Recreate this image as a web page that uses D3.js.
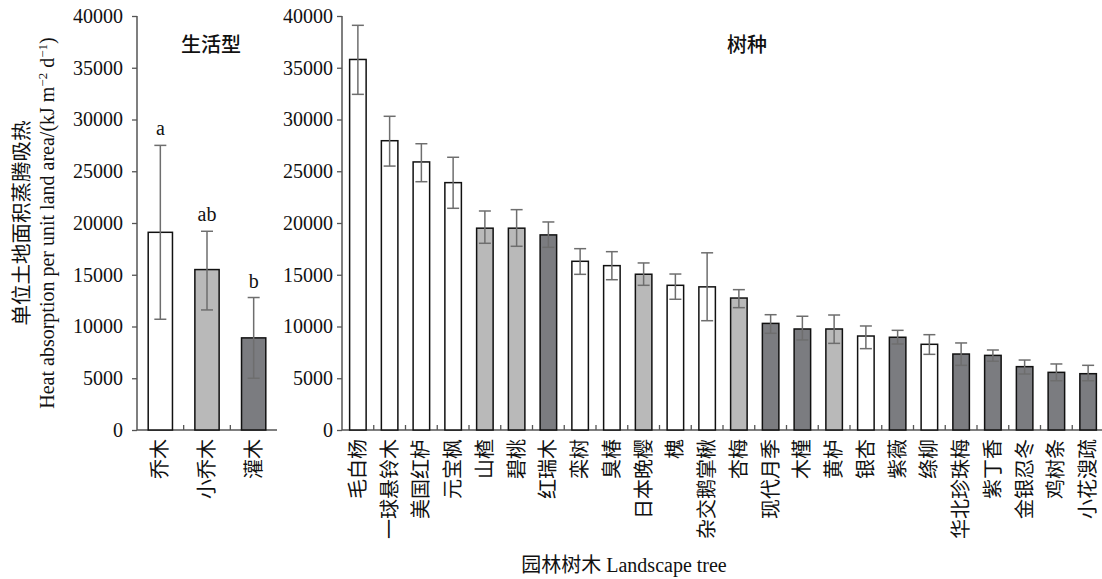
<!DOCTYPE html>
<html>
<head>
<meta charset="utf-8">
<script src="https://cdn.jsdelivr.net/npm/d3@7"></script>
<style>
  html, body { margin: 0; padding: 0; background: #fff; }
  svg { display: block; }
  text { font-family: "Liberation Serif", "Noto Sans CJK SC", serif; fill: #111; }
</style>
</head>
<body>
<svg id="chart" width="1102" height="579"></svg>
<script>
// Life-form panel
const lifeForms = ["乔木", "小乔木", "灌木"];
const lifeMean  = [19100, 15500, 8900];
const lifeLow   = [10700, 11600, 5000];
const lifeHigh  = [27500, 19200, 12800];
const lifeSig   = ["a", "ab", "b"];

// Species panel (type: 0 = 乔木, 1 = 小乔木, 2 = 灌木)
const species = ["毛白杨", "一球悬铃木", "美国红栌", "元宝枫", "山楂", "碧桃", "红瑞木", "栾树",
  "臭椿", "日本晚樱", "槐", "杂交鹅掌楸", "杏梅", "现代月季", "木槿", "黄栌", "银杏", "紫薇",
  "绦柳", "华北珍珠梅", "紫丁香", "金银忍冬", "鸡树条", "小花溲疏"];
const speciesType = [0, 0, 0, 0, 1, 1, 2, 0, 0, 1, 0, 0, 1, 2, 2, 1, 0, 2, 0, 2, 2, 2, 2, 2];
const speciesMean = [35800, 27950, 25900, 23900, 19500, 19500, 18850, 16300, 15880, 15050, 13980,
  13830, 12750, 10300, 9760, 9760, 9080, 8960, 8280, 7340, 7210, 6120, 5570, 5440];
const speciesLow  = [32430, 25500, 23990, 21420, 18040, 17750, 17650, 15040, 14520, 13980, 12630,
  10560, 11820, 9340, 8700, 8370, 7860, 8310, 7310, 6250, 6640, 5410, 4760, 4760];
const speciesHigh = [39100, 30310, 27660, 26350, 21160, 21290, 20100, 17520, 17230, 16140, 15070,
  17120, 13560, 11140, 10990, 11110, 10050, 9630, 9210, 8410, 7730, 6760, 6380, 6250];

const yTicks = [0, 5000, 10000, 15000, 20000, 25000, 30000, 35000, 40000];
const typeFill = ["#ffffff", "#b9b9b9", "#7b7c80"];

const svg = d3.select("#chart");
const y = d3.scaleLinear().domain([0, 40000]).range([430, 16]);

function panel(cfg) {
  const x = d3.scaleBand().domain(cfg.cats).range(cfg.range)
    .paddingInner(0.48).paddingOuter(0.24);
  const g = svg.append("g");

  // y axis
  const ya = g.append("g").attr("transform", `translate(${cfg.range[0]},0)`)
    .call(d3.axisLeft(y).tickValues(yTicks).tickFormat(d3.format("d"))
      .tickSize(5).tickPadding(cfg.tickPad));
  ya.select(".domain").attr("stroke", "#555").attr("stroke-width", 1.5)
    .attr("d", `M0,${y(0)}V${y(40000)}`);
  ya.selectAll(".tick line").attr("stroke", "#555").attr("stroke-width", 1.3);
  ya.selectAll(".tick text").style("font-size", "20px")
    .style("font-family", "'Liberation Serif', serif").attr("fill", "#111");

  // x baseline and separating ticks
  g.append("line").attr("x1", cfg.range[0]).attr("x2", cfg.range[1])
    .attr("y1", y(0)).attr("y2", y(0)).attr("stroke", "#555").attr("stroke-width", 1.5);
  const step = x.step(), bw = x.bandwidth();
  g.selectAll("line.sep").data(cfg.cats.slice(0, -1)).join("line")
    .attr("class", "sep")
    .attr("x1", d => x(d) + bw + (step - bw) / 2)
    .attr("x2", d => x(d) + bw + (step - bw) / 2)
    .attr("y1", y(0)).attr("y2", y(0) - 5)
    .attr("stroke", "#555").attr("stroke-width", 1.3);

  // bars
  g.selectAll("rect.bar").data(cfg.cats).join("rect")
    .attr("class", "bar")
    .attr("x", d => x(d)).attr("width", bw)
    .attr("y", (d, i) => y(cfg.mean[i]))
    .attr("height", (d, i) => y(0) - y(cfg.mean[i]))
    .attr("fill", (d, i) => typeFill[cfg.type[i]])
    .attr("stroke", "#111").attr("stroke-width", 1.5);

  // error bars
  const eb = g.selectAll("g.err").data(cfg.cats).join("g").attr("class", "err")
    .attr("stroke", "#6e6e6e").attr("stroke-width", 1.5);
  const cap = 6;
  eb.append("line")
    .attr("x1", d => x(d) + bw / 2).attr("x2", d => x(d) + bw / 2)
    .attr("y1", (d, i) => y(cfg.low[i])).attr("y2", (d, i) => y(cfg.high[i]));
  eb.append("line")
    .attr("x1", d => x(d) + bw / 2 - cap).attr("x2", d => x(d) + bw / 2 + cap)
    .attr("y1", (d, i) => y(cfg.high[i])).attr("y2", (d, i) => y(cfg.high[i]));
  eb.append("line")
    .attr("x1", d => x(d) + bw / 2 - cap).attr("x2", d => x(d) + bw / 2 + cap)
    .attr("y1", (d, i) => y(cfg.low[i])).attr("y2", (d, i) => y(cfg.low[i]));

  // category labels, rotated
  g.selectAll("text.cat").data(cfg.cats).join("text")
    .attr("class", "cat")
    .attr("transform", d => `translate(${x(d) + bw / 2 + 7},${y(0) + 9}) rotate(-90)`)
    .attr("text-anchor", "end")
    .style("font-size", "20px")
    .text(d => d);

  // panel title
  g.append("text").attr("x", cfg.titleX).attr("y", 52)
    .attr("text-anchor", "middle").style("font-size", "20px").style("font-weight", "500")
    .text(cfg.title);

  return { x, g, bw };
}

const left = panel({
  cats: lifeForms, mean: lifeMean, low: lifeLow, high: lifeHigh, type: [0, 1, 2],
  range: [137, 277], tickPad: 9, title: "生活型", titleX: 211
});
left.g.selectAll("text.sig").data(lifeForms).join("text")
  .attr("class", "sig")
  .attr("x", d => left.x(d) + left.bw / 2)
  .attr("y", (d, i) => y(lifeHigh[i]) - 10)
  .attr("text-anchor", "middle").style("font-size", "20px")
  .text((d, i) => lifeSig[i]);

panel({
  cats: species, mean: speciesMean, low: speciesLow, high: speciesHigh, type: speciesType,
  range: [342, 1104], tickPad: 4, title: "树种", titleX: 747
});

// y-axis title (two lines)
const yt = svg.append("g").attr("transform", `translate(0,${(y(0) + y(40000)) / 2}) rotate(-90)`);
yt.append("text").attr("x", 0).attr("y", 29).attr("text-anchor", "middle")
  .style("font-size", "20.5px").text("单位土地面积蒸腾吸热");
const yt2 = yt.append("text").attr("x", 0).attr("y", 54).attr("text-anchor", "middle")
  .style("font-size", "20px");
yt2.append("tspan").text("Heat absorption per unit land area/(kJ m");
yt2.append("tspan").attr("dy", -7).style("font-size", "13px").text("−2");
yt2.append("tspan").attr("dy", 7).text(" d");
yt2.append("tspan").attr("dy", -7).style("font-size", "13px").text("−1");
yt2.append("tspan").attr("dy", 7).text(")");

// x-axis title
svg.append("text").attr("x", 624).attr("y", 572).attr("text-anchor", "middle")
  .style("font-size", "20px").text("园林树木 Landscape tree");
</script>
</body>
</html>
